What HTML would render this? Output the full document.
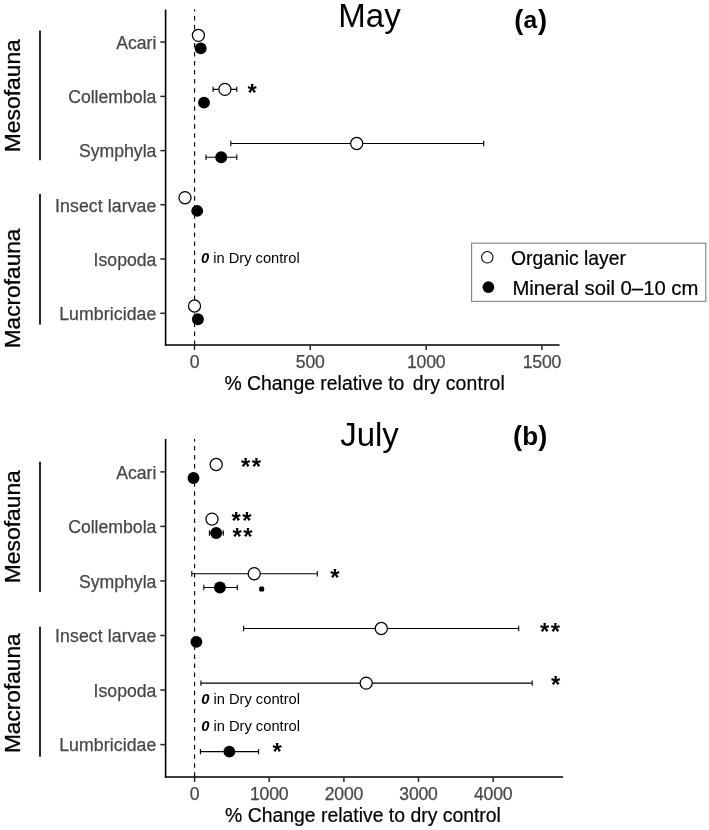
<!DOCTYPE html>
<html><head><meta charset="utf-8"><title>Soil fauna change</title>
<style>html,body{margin:0;padding:0;background:#fff;overflow:hidden;}svg{display:block;will-change:transform;filter:grayscale(1);}text{font-family:"Liberation Sans",sans-serif;}</style>
</head><body>
<svg width="709" height="830" viewBox="0 0 709 830">
<rect x="0" y="0" width="709" height="830" fill="#ffffff"/>
<clipPath id="ca"><rect x="190" y="9.6" width="10" height="335.4"/></clipPath>
<line x1="194.55" y1="7.0" x2="194.55" y2="345.0" stroke="#000" stroke-width="1.15" stroke-dasharray="4.5 4.515" clip-path="url(#ca)"/>
<line x1="165.6" y1="9.6" x2="165.6" y2="345.8" stroke="#000" stroke-width="1.6"/>
<line x1="164.9" y1="345.0" x2="559.6" y2="345.0" stroke="#000" stroke-width="1.6"/>
<line x1="160.3" y1="42.0" x2="165" y2="42.0" stroke="#262626" stroke-width="1.5"/>
<text x="156.4" y="48.8" font-size="17.65" fill="#474747" stroke="#474747" stroke-width="0.25" text-anchor="end">Acari</text>
<line x1="160.3" y1="96.4" x2="165" y2="96.4" stroke="#262626" stroke-width="1.5"/>
<text x="156.4" y="103.2" font-size="17.65" fill="#474747" stroke="#474747" stroke-width="0.25" text-anchor="end">Collembola</text>
<line x1="160.3" y1="150.6" x2="165" y2="150.6" stroke="#262626" stroke-width="1.5"/>
<text x="156.4" y="157.4" font-size="17.65" fill="#474747" stroke="#474747" stroke-width="0.25" text-anchor="end">Symphyla</text>
<line x1="160.3" y1="204.7" x2="165" y2="204.7" stroke="#262626" stroke-width="1.5"/>
<text x="156.4" y="211.5" font-size="17.65" letter-spacing="0.1" fill="#474747" stroke="#474747" stroke-width="0.25" text-anchor="end">Insect larvae</text>
<line x1="160.3" y1="259.0" x2="165" y2="259.0" stroke="#262626" stroke-width="1.5"/>
<text x="156.4" y="265.8" font-size="17.65" fill="#474747" stroke="#474747" stroke-width="0.25" text-anchor="end">Isopoda</text>
<line x1="160.3" y1="313.3" x2="165" y2="313.3" stroke="#262626" stroke-width="1.5"/>
<text x="156.4" y="320.1" font-size="17.65" letter-spacing="0.1" fill="#474747" stroke="#474747" stroke-width="0.25" text-anchor="end">Lumbricidae</text>
<line x1="194.5" y1="345.0" x2="194.5" y2="349.9" stroke="#262626" stroke-width="1.5"/>
<text x="194.5" y="367.8" font-size="17.6" letter-spacing="-0.2" fill="#474747" stroke="#474747" stroke-width="0.25" text-anchor="middle">0</text>
<line x1="310.2" y1="345.0" x2="310.2" y2="349.9" stroke="#262626" stroke-width="1.5"/>
<text x="310.2" y="367.8" font-size="17.6" letter-spacing="-0.2" fill="#474747" stroke="#474747" stroke-width="0.25" text-anchor="middle">500</text>
<line x1="426.2" y1="345.0" x2="426.2" y2="349.9" stroke="#262626" stroke-width="1.5"/>
<text x="426.2" y="367.8" font-size="17.6" letter-spacing="-0.2" fill="#474747" stroke="#474747" stroke-width="0.25" text-anchor="middle">1000</text>
<line x1="541.9" y1="345.0" x2="541.9" y2="349.9" stroke="#262626" stroke-width="1.5"/>
<text x="541.9" y="367.8" font-size="17.6" letter-spacing="-0.2" fill="#474747" stroke="#474747" stroke-width="0.25" text-anchor="middle">1500</text>
<text y="390.1" font-size="19.4" fill="#000" stroke="#000" stroke-width="0.2"><tspan x="224.4">% Change relative to</tspan><tspan x="412.7" letter-spacing="0.16">dry control</tspan></text>
<text x="338.3" y="26.9" font-size="33" fill="#000">May</text>
<text font-weight="bold" fill="#000"><tspan x="514.2" y="28.8" font-size="27.2">(</tspan><tspan x="523.6" y="28.3" font-size="24.6">a</tspan><tspan x="538.0" y="28.8" font-size="27.2">)</tspan></text>
<line x1="40" y1="30.5" x2="40" y2="160.2" stroke="#000" stroke-width="1.7"/>
<text transform="translate(20.2,152.2) rotate(-90)" font-size="21.6" textLength="113" lengthAdjust="spacingAndGlyphs" fill="#000" stroke="#000" stroke-width="0.3">Mesofauna</text>
<line x1="40" y1="193.9" x2="40" y2="324.6" stroke="#000" stroke-width="1.7"/>
<text transform="translate(20.2,348.3) rotate(-90)" font-size="21.6" textLength="119.8" lengthAdjust="spacingAndGlyphs" fill="#000" stroke="#000" stroke-width="0.3">Macrofauna</text>
<circle cx="198.4" cy="35.3" r="6.05" fill="#fff" stroke="#000" stroke-width="1.25"/>
<circle cx="200.7" cy="48.4" r="5.95" fill="#000"/>
<path d="M213.1 89.4H236.8M213.1 86.7V92.10000000000001M236.8 86.7V92.10000000000001" stroke="#000" stroke-width="1.1" fill="none"/>
<circle cx="224.9" cy="89.4" r="6.05" fill="#fff" stroke="#000" stroke-width="1.25"/>
<circle cx="204" cy="102.6" r="5.95" fill="#000"/>
<path d="M230.8 143.5H483.7M230.8 140.8V146.2M483.7 140.8V146.2" stroke="#000" stroke-width="1.1" fill="none"/>
<circle cx="356.7" cy="143.5" r="6.05" fill="#fff" stroke="#000" stroke-width="1.25"/>
<path d="M206 157.2H236.8M206 154.5V159.89999999999998M236.8 154.5V159.89999999999998" stroke="#000" stroke-width="1.1" fill="none"/>
<circle cx="221.2" cy="157.2" r="5.95" fill="#000"/>
<circle cx="185" cy="197.7" r="6.05" fill="#fff" stroke="#000" stroke-width="1.25"/>
<circle cx="197.2" cy="210.9" r="5.95" fill="#000"/>
<text x="200.9" y="262.9" font-size="14.7" fill="#000"><tspan font-weight="bold" font-style="italic">0</tspan> in Dry control</text>
<circle cx="194.5" cy="306" r="6.05" fill="#fff" stroke="#000" stroke-width="1.25"/>
<circle cx="197.9" cy="319.2" r="5.95" fill="#000"/>
<text x="247.4" y="100.6" font-size="23.8" font-weight="bold" letter-spacing="1.55" fill="#000">*</text>
<rect x="471.6" y="243.2" width="234.2" height="58.2" fill="#fff" stroke="#808080" stroke-width="1.1"/>
<circle cx="487.3" cy="257.3" r="5.7" fill="#fff" stroke="#000" stroke-width="1.05"/>
<circle cx="488.4" cy="287.2" r="5.85" fill="#000"/>
<text x="510.9" y="265" font-size="19.35" fill="#000" stroke="#000" stroke-width="0.2">Organic layer</text>
<text x="512.4" y="294.9" font-size="20.3" fill="#000" stroke="#000" stroke-width="0.2">Mineral soil 0–10 cm</text>
<clipPath id="cb"><rect x="190" y="439.1" width="10" height="337.9"/></clipPath>
<line x1="194.55" y1="436.9" x2="194.55" y2="777.0" stroke="#000" stroke-width="1.15" stroke-dasharray="4.5 4.565" clip-path="url(#cb)"/>
<line x1="165.6" y1="439.1" x2="165.6" y2="777.8" stroke="#000" stroke-width="1.6"/>
<line x1="164.9" y1="777.0" x2="563.1" y2="777.0" stroke="#000" stroke-width="1.6"/>
<line x1="160.3" y1="471.9" x2="165" y2="471.9" stroke="#262626" stroke-width="1.5"/>
<text x="156.4" y="478.7" font-size="17.65" fill="#474747" stroke="#474747" stroke-width="0.25" text-anchor="end">Acari</text>
<line x1="160.3" y1="526.4" x2="165" y2="526.4" stroke="#262626" stroke-width="1.5"/>
<text x="156.4" y="533.2" font-size="17.65" fill="#474747" stroke="#474747" stroke-width="0.25" text-anchor="end">Collembola</text>
<line x1="160.3" y1="580.9" x2="165" y2="580.9" stroke="#262626" stroke-width="1.5"/>
<text x="156.4" y="587.7" font-size="17.65" fill="#474747" stroke="#474747" stroke-width="0.25" text-anchor="end">Symphyla</text>
<line x1="160.3" y1="635.5" x2="165" y2="635.5" stroke="#262626" stroke-width="1.5"/>
<text x="156.4" y="642.3" font-size="17.65" letter-spacing="0.1" fill="#474747" stroke="#474747" stroke-width="0.25" text-anchor="end">Insect larvae</text>
<line x1="160.3" y1="690.0" x2="165" y2="690.0" stroke="#262626" stroke-width="1.5"/>
<text x="156.4" y="696.8" font-size="17.65" fill="#474747" stroke="#474747" stroke-width="0.25" text-anchor="end">Isopoda</text>
<line x1="160.3" y1="744.6" x2="165" y2="744.6" stroke="#262626" stroke-width="1.5"/>
<text x="156.4" y="751.4" font-size="17.65" letter-spacing="0.1" fill="#474747" stroke="#474747" stroke-width="0.25" text-anchor="end">Lumbricidae</text>
<line x1="194.6" y1="777.0" x2="194.6" y2="781.9" stroke="#262626" stroke-width="1.5"/>
<text x="194.6" y="799.7" font-size="17.6" letter-spacing="-0.2" fill="#474747" stroke="#474747" stroke-width="0.25" text-anchor="middle">0</text>
<line x1="269.2" y1="777.0" x2="269.2" y2="781.9" stroke="#262626" stroke-width="1.5"/>
<text x="269.2" y="799.7" font-size="17.6" letter-spacing="-0.2" fill="#474747" stroke="#474747" stroke-width="0.25" text-anchor="middle">1000</text>
<line x1="343.9" y1="777.0" x2="343.9" y2="781.9" stroke="#262626" stroke-width="1.5"/>
<text x="343.9" y="799.7" font-size="17.6" letter-spacing="-0.2" fill="#474747" stroke="#474747" stroke-width="0.25" text-anchor="middle">2000</text>
<line x1="418.5" y1="777.0" x2="418.5" y2="781.9" stroke="#262626" stroke-width="1.5"/>
<text x="418.5" y="799.7" font-size="17.6" letter-spacing="-0.2" fill="#474747" stroke="#474747" stroke-width="0.25" text-anchor="middle">3000</text>
<line x1="493.2" y1="777.0" x2="493.2" y2="781.9" stroke="#262626" stroke-width="1.5"/>
<text x="493.2" y="799.7" font-size="17.6" letter-spacing="-0.2" fill="#474747" stroke="#474747" stroke-width="0.25" text-anchor="middle">4000</text>
<text x="225" y="821.9" font-size="19.4" fill="#000" stroke="#000" stroke-width="0.2">% Change relative to dry control</text>
<text x="340.2" y="445.7" font-size="33" fill="#000">July</text>
<text font-weight="bold" fill="#000"><tspan x="513.1" y="445.1" font-size="27.2">(</tspan><tspan x="522.3" y="444.9" font-size="26">b</tspan><tspan x="538.3" y="445.1" font-size="27.2">)</tspan></text>
<line x1="40" y1="461.7" x2="40" y2="591.9" stroke="#000" stroke-width="1.7"/>
<text transform="translate(20.2,583.2) rotate(-90)" font-size="21.6" textLength="113" lengthAdjust="spacingAndGlyphs" fill="#000" stroke="#000" stroke-width="0.3">Mesofauna</text>
<line x1="40" y1="626.8" x2="40" y2="756.8" stroke="#000" stroke-width="1.7"/>
<text transform="translate(20.2,753.1) rotate(-90)" font-size="21.6" textLength="119.8" lengthAdjust="spacingAndGlyphs" fill="#000" stroke="#000" stroke-width="0.3">Macrofauna</text>
<circle cx="216.2" cy="464.5" r="6.05" fill="#fff" stroke="#000" stroke-width="1.25"/>
<circle cx="193.5" cy="478" r="5.95" fill="#000"/>
<circle cx="212.0" cy="519.1" r="6.05" fill="#fff" stroke="#000" stroke-width="1.25"/>
<path d="M209.4 533H223.3M209.4 530.3V535.7M223.3 530.3V535.7" stroke="#000" stroke-width="1.1" fill="none"/>
<circle cx="216.2" cy="533" r="5.95" fill="#000"/>
<path d="M191.8 573.7H317.3M191.8 571.0V576.4000000000001M317.3 571.0V576.4000000000001" stroke="#000" stroke-width="1.1" fill="none"/>
<circle cx="254.2" cy="573.7" r="6.05" fill="#fff" stroke="#000" stroke-width="1.25"/>
<path d="M203.8 587.5H237.3M203.8 584.8V590.2M237.3 584.8V590.2" stroke="#000" stroke-width="1.1" fill="none"/>
<circle cx="219.9" cy="587.5" r="5.95" fill="#000"/>
<path d="M243.6 628.5H518.7M243.6 625.8V631.2M518.7 625.8V631.2" stroke="#000" stroke-width="1.1" fill="none"/>
<circle cx="381.3" cy="628.5" r="6.05" fill="#fff" stroke="#000" stroke-width="1.25"/>
<circle cx="196.4" cy="641.9" r="5.95" fill="#000"/>
<path d="M200.9 683.1H532.2M200.9 680.4V685.8000000000001M532.2 680.4V685.8000000000001" stroke="#000" stroke-width="1.1" fill="none"/>
<circle cx="366.2" cy="683.1" r="6.05" fill="#fff" stroke="#000" stroke-width="1.25"/>
<text x="201.2" y="703.6" font-size="14.7" fill="#000"><tspan font-weight="bold" font-style="italic">0</tspan> in Dry control</text>
<text x="201.2" y="731.3" font-size="14.7" fill="#000"><tspan font-weight="bold" font-style="italic">0</tspan> in Dry control</text>
<path d="M200.4 751.6H258.6M200.4 748.9V754.3000000000001M258.6 748.9V754.3000000000001" stroke="#000" stroke-width="1.1" fill="none"/>
<circle cx="229.4" cy="751.6" r="5.95" fill="#000"/>
<text x="241" y="474.7" font-size="23.8" font-weight="bold" letter-spacing="1.55" fill="#000">**</text>
<text x="231.5" y="529.3" font-size="23.8" font-weight="bold" letter-spacing="1.55" fill="#000">**</text>
<text x="232.5" y="545.2" font-size="23.8" font-weight="bold" letter-spacing="1.55" fill="#000">**</text>
<text x="330.2" y="585.5" font-size="23.8" font-weight="bold" letter-spacing="1.55" fill="#000">*</text>
<text x="540" y="639.5" font-size="23.8" font-weight="bold" letter-spacing="1.55" fill="#000">**</text>
<text x="551" y="692.5" font-size="23.8" font-weight="bold" letter-spacing="1.55" fill="#000">*</text>
<text x="272.6" y="759.8" font-size="23.8" font-weight="bold" letter-spacing="1.55" fill="#000">*</text>
<rect x="259.1" y="586.5" width="5.1" height="5.1" rx="1.5" fill="#000"/>
</svg></body></html>
